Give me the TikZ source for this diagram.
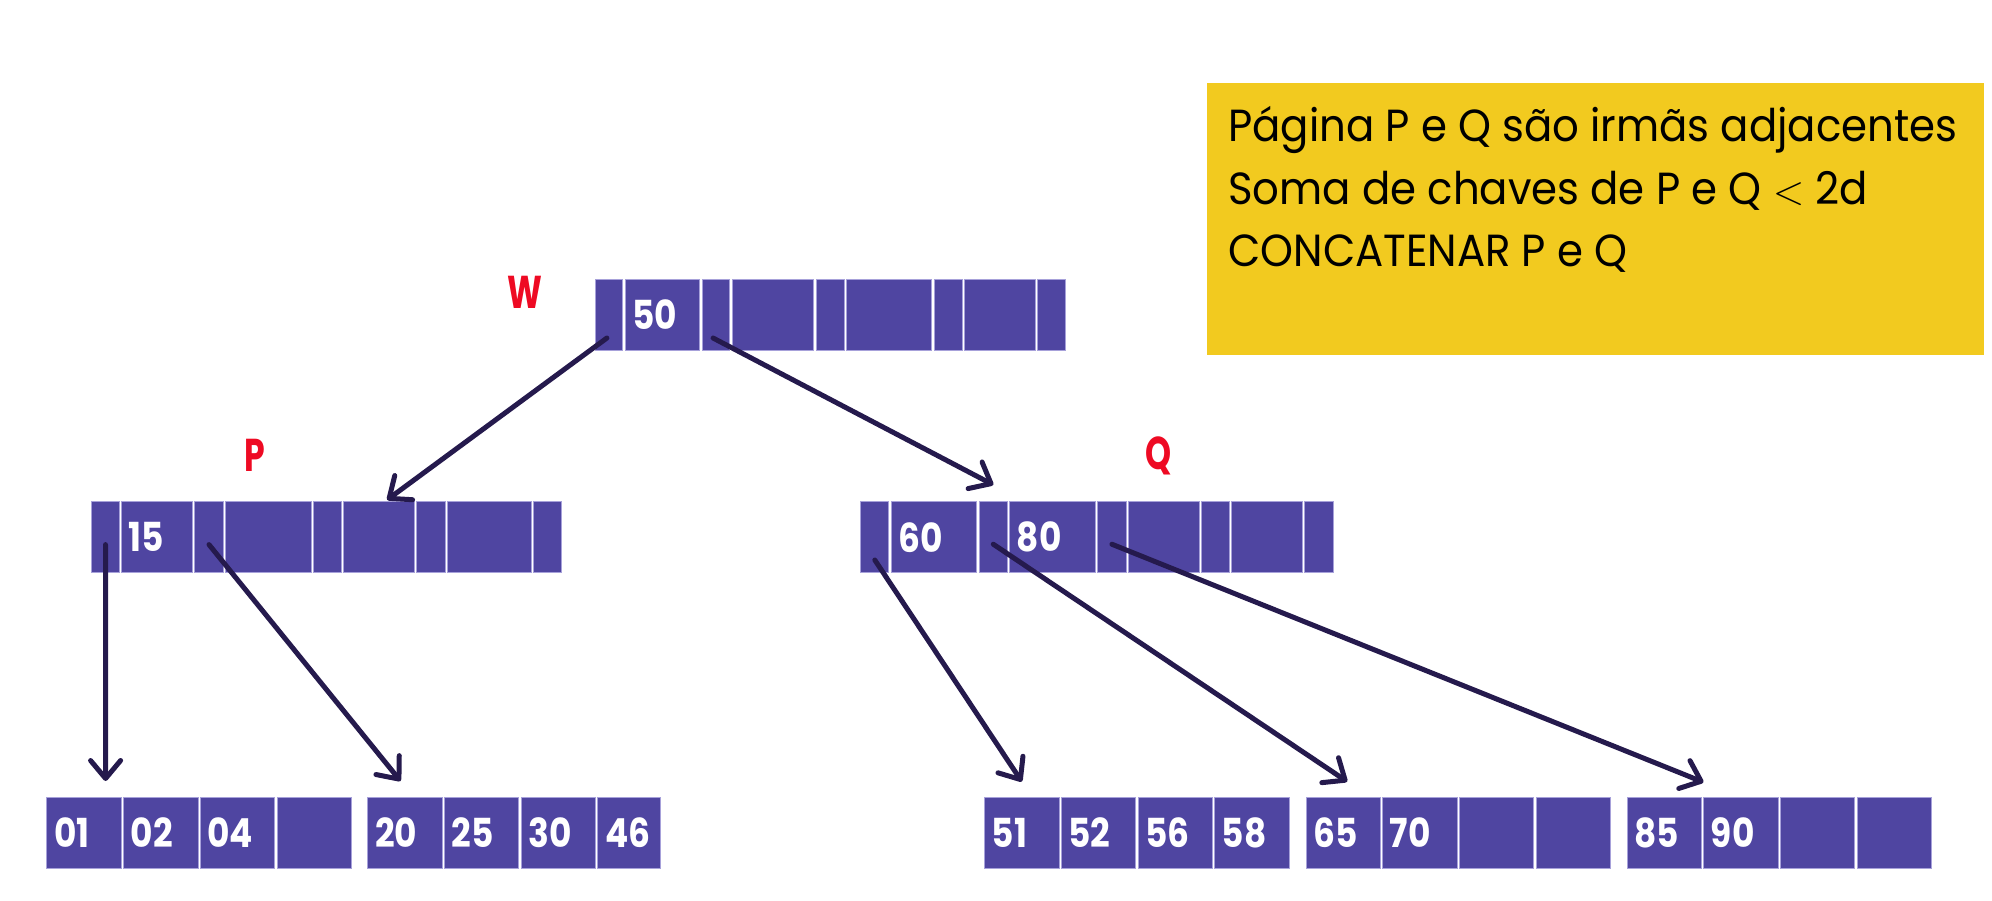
\documentclass[tikz,border=0pt]{standalone}
\usepackage{fontspec}
\setmainfont{Poppins}
\newfontfamily\numfont[FakeStretch=0.86]{Poppins}
\newfontfamily\lblfont[FakeStretch=0.72]{Poppins}
\newfontfamily\notefont[FakeStretch=0.93]{Poppins}
\usetikzlibrary{positioning,calc,arrows.meta}

\definecolor{cellfill}{HTML}{4F45A1}
\definecolor{cellline}{HTML}{A7A1DA}
\definecolor{arrowc}{HTML}{251A4D}
\definecolor{labelred}{HTML}{EE0A23}
\definecolor{noteyellow}{HTML}{F2CA1F}

\tikzset{
  cell/.style={draw=cellline, fill=cellfill, line width=0.5pt, minimum height=35.4pt,
    inner sep=0pt, outer sep=0pt, text=white,
    font=\numfont\bfseries\fontsize{20}{22}\selectfont},
  ptrarrow/.style={draw=arrowc, line width=2.5pt, line cap=round,
    -{Straight Barb[length=9pt,width=15pt,line cap=round,line join=round]}},
  pagelabel/.style={text=labelred, inner sep=0pt,
    font=\lblfont\bfseries\fontsize{23}{25}\selectfont},
  note/.style={fill=noteyellow, inner sep=0pt},
  notetext/.style={align=left, inner sep=0pt,
    font=\notefont\fontsize{22.5}{31.25}\selectfont},
}

% one page of the tree: name, x of first cell, y of centre, gap, cells
\newcommand{\bpage}[5]{%
  \coordinate (#1-0) at ({#2-#4},#3);
  \foreach \cw/\ck [count=\i] in {#5}{%
    \pgfmathtruncatemacro{\j}{\i-1}
    \node[cell, right=#4pt of #1-\j] (#1-\i) {\makebox[\cw pt][l]{\hspace{3.6pt}\ck}};
  }%
}

\begin{document}
\begin{tikzpicture}[x=1pt,y=-1pt]
  \useasboundingbox (0,0) rectangle (996,450);

  % note
  \node[note, anchor=north west, minimum width=388.8pt, minimum height=136pt] (note) at (603.2,41.15) {};
  \node[notetext, anchor=base west] (noteText) at (614,133.35) {Página P e Q são irmãs adjacentes\\Soma de chaves de P e Q $<$ 2d\\CONCATENAR P e Q};

  % pages
  \bpage{W}{297.5}{157.3}{1.3}{13.9/{}, 37.1/50, 13.85/{}, 40.6/{}, 13.85/{}, 42.6/{}, 13.85/{}, 35.3/{}, 13.85/{}}
  \bpage{P}{45.75}{268.6}{1.05}{14/{}, 35.5/15, 14.3/{}, 42.9/{}, 14.25/{}, 35.25/{}, 14.25/{}, 42/{}, 14/{}}
  \bpage{Q}{430.4}{268.6}{1.15}{14/{}, 42.85/60, 14.15/{}, 42.85/80, 14.15/{}, 35.4/{}, 13.95/{}, 35.4/{}, 14.15/{}}
  \bpage{La}{23.45}{416.5}{1.15}{37.2/01, 37.2/02, 37.2/04, 37.2/{}}
  \bpage{Lb}{183.9}{416.5}{1.15}{37.2/20, 37.2/25, 37.2/30, 31.5/46}
  \bpage{Lc}{492.3}{416.5}{1.15}{37.2/51, 37.2/52, 37.2/56, 37.2/58}
  \bpage{Ld}{653}{416.5}{1.15}{37.2/65, 37.2/70, 37.2/{}, 37.2/{}}
  \bpage{Le}{813.5}{416.5}{1.15}{37.2/85, 37.2/90, 37.2/{}, 37.2/{}}

  % page names
  \node[pagelabel] (lblW) at (262.5,146) {W};
  \node[pagelabel] (lblP) at (127.5,227.5) {P};
  \node[pagelabel] (lblQ) at (579.5,228) {Q};

  % pointers
  \draw[ptrarrow] ($(W-1.south)+(-1,-6)$) -- ($(P-6.north)+(4,-1)$);
  \draw[ptrarrow] ($(W-3.south)+(-1.5,-6)$) -- ($(Q-3.north)+(0,-8.5)$);
  \draw[ptrarrow] ($(P-1.south)+(0,-14)$) -- ($(La-1.north)+(10.75,-8.3)$);
  \draw[ptrarrow] ($(P-3.south)+(0,-14)$) -- ($(Lb-1.north)+(-2.25,-8.3)$);
  \draw[ptrarrow] ($(Q-1.south)+(0,-6.3)$) -- ($(Lc-1.north)+(0,-8)$);
  \draw[ptrarrow] ($(Q-3.south)+(0,-14.2)$) -- ($(Ld-1.north)+(2,-8)$);
  \draw[ptrarrow] ($(Q-5.south)+(0,-14.2)$) -- ($(Le-1.north east)+(1,-7.7)$);
\end{tikzpicture}
\end{document}
